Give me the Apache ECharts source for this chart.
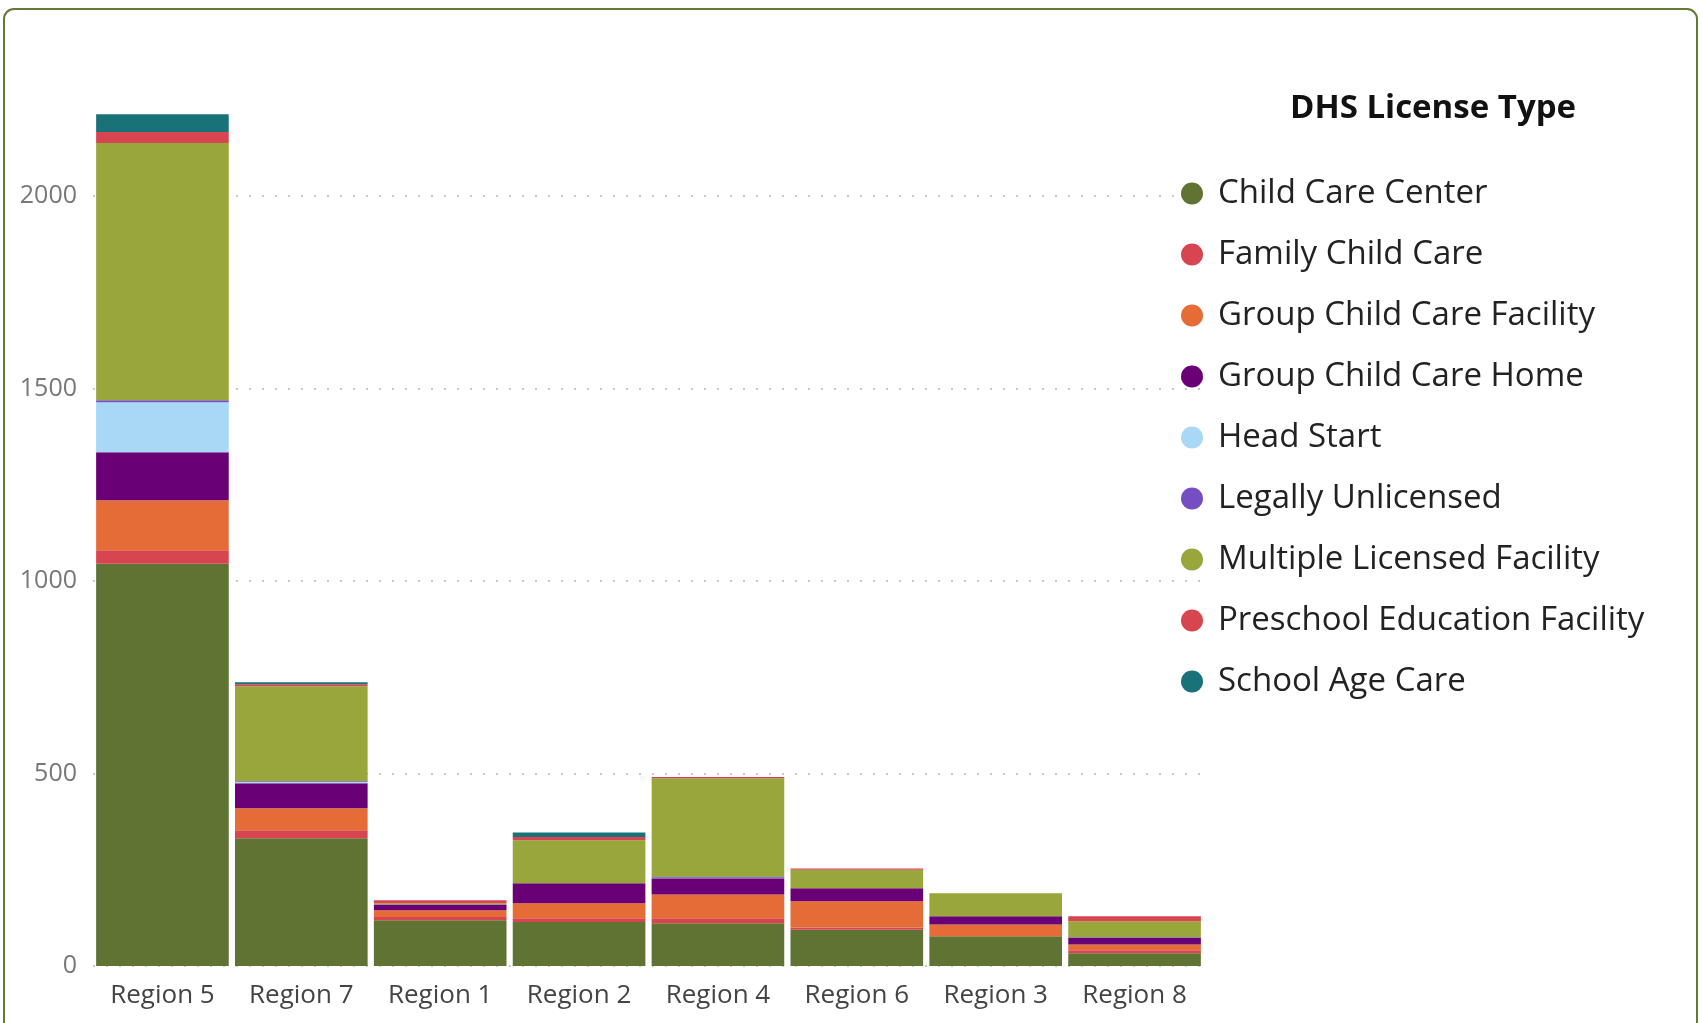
<!DOCTYPE html>
<html lang="en">
<head>
    <meta charset="UTF-8">
    <title>DHS License Type by Region</title>
    <script type="text/javascript" src="https://cdn.jsdelivr.net/npm/echarts@6/dist/echarts.min.js"></script>
    <style>
        html, body {
            width: 100%;
            height: 100%;
            margin: 0;
            padding: 0;
            background: #fff;
        }
        #main {
            width: 1703px;
            height: 1023px;
        }
    </style>
</head>
<body>
    <div id="main"></div>
    <script>
        // regions, in the order shown
        var regions = ['Region 5', 'Region 7', 'Region 1', 'Region 2', 'Region 4', 'Region 6', 'Region 3', 'Region 8'];

        // counts per license type
        var childCareCenter    = [1045, 332, 119, 114, 111, 94, 77, 33];
        var familyChildCare    = [35, 21, 8, 10, 13, 6, 0, 8];
        var groupCareFacility  = [130, 57, 18, 39, 62, 68, 31, 15];
        var groupCareHome      = [125, 65, 15, 52, 42, 34, 21, 17];
        var headStart          = [130, 3, 0, 0, 1, 0, 0, 0];
        var legallyUnlicensed  = [5, 2, 0, 0, 2, 0, 0, 2];
        var multipleLicensed   = [668, 247, 3, 112, 257, 48, 60, 41];
        var preschoolEducation = [29, 5, 8, 8, 3, 3, 0, 13];
        var schoolAgeCare      = [46, 5, 0, 12, 0, 0, 0, 0];

        var typeNames = ['Child Care Center', 'Family Child Care', 'Group Child Care Facility',
            'Group Child Care Home', 'Head Start', 'Legally Unlicensed',
            'Multiple Licensed Facility', 'Preschool Education Facility', 'School Age Care'];
        var typeValues = [childCareCenter, familyChildCare, groupCareFacility, groupCareHome,
            headStart, legallyUnlicensed, multipleLicensed, preschoolEducation, schoolAgeCare];
        var typeColors = ['#5f7333', '#d64550', '#e56c37', '#690076', '#a8d8f5',
            '#744ec2', '#98a63b', '#d64550', '#197278'];

        var font = '"Open Sans", "Noto Sans", sans-serif';

        var series = typeNames.map(function (name, i) {
            return {
                name: name,
                type: 'bar',
                stack: 'total',
                data: typeValues[i],
                barCategoryGap: '4.5%',
                itemStyle: { color: typeColors[i] }
            };
        });

        var myChart = echarts.init(document.getElementById('main'));
        var option = {
            backgroundColor: '#fff',
            animation: false,
            title: {
                text: 'DHS License Type',
                left: 1285,
                top: 87,
                textStyle: { fontFamily: font, fontSize: 33, fontWeight: 'bold', color: '#111' }
            },
            legend: {
                orient: 'vertical',
                left: 1176,
                top: 172,
                itemGap: 28,
                itemWidth: 22,
                itemHeight: 22,
                icon: 'circle',
                data: typeNames,
                textStyle: { fontFamily: font, fontSize: 33, color: '#222', padding: [0, 0, 0, 10] }
            },
            grid: {
                left: 93,
                right: 499,
                top: 100,
                bottom: 57
            },
            xAxis: {
                type: 'category',
                data: regions,
                axisTick: { show: false },
                axisLine: { show: false },
                axisLabel: { interval: 0, color: '#444', fontFamily: font, fontSize: 26, margin: 17 }
            },
            yAxis: {
                type: 'value',
                min: 0,
                max: 2250,
                interval: 500,
                axisLabel: {
                    color: '#777', fontFamily: font, fontSize: 25, margin: 16, showMaxLabel: false,
                    formatter: function (v) { return String(v); }
                },
                splitLine: {
                    showMaxLine: false,
                    lineStyle: { color: '#c8c8c8', width: 2, type: [2, 11] }
                }
            },
            graphic: [{
                type: 'rect',
                shape: { x: 4, y: 9, width: 1693, height: 1040, r: 10 },
                style: { fill: 'none', stroke: '#627a34', lineWidth: 2 },
                silent: true,
                z: 100
            }],
            series: series
        };
        myChart.setOption(option);

        window.addEventListener('resize', function () {
            myChart.resize();
        });
    </script>
</body>
</html>
